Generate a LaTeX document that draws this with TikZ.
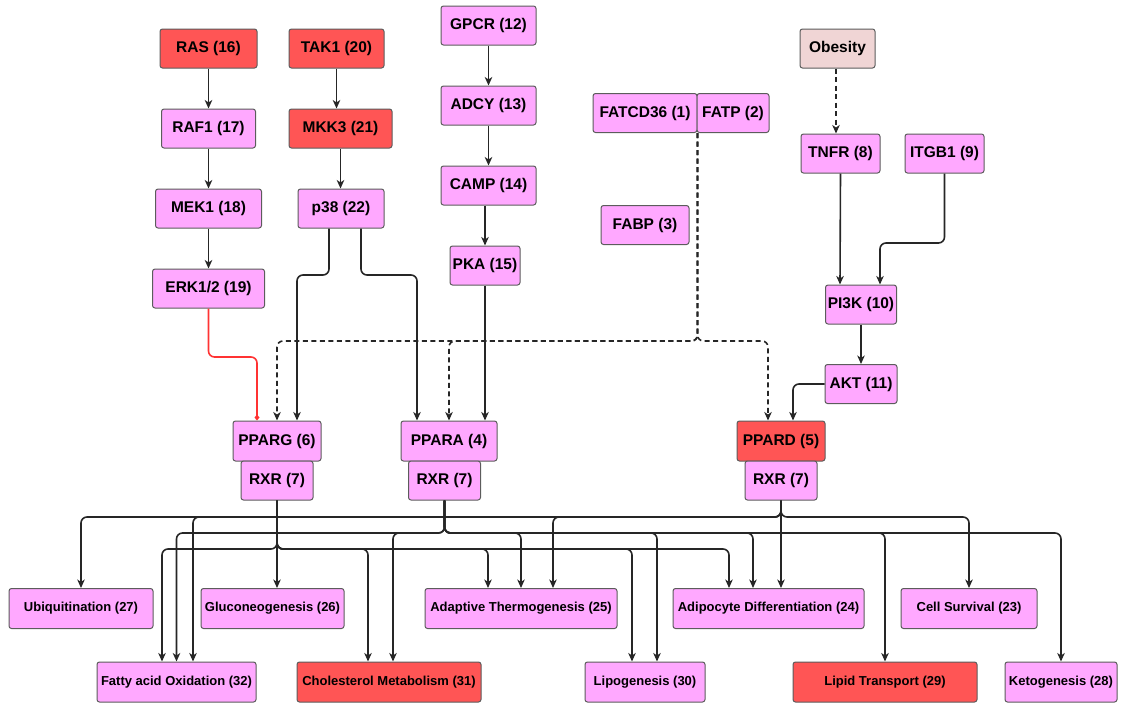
\documentclass[tikz,border=0pt]{standalone}
\usepackage{fontspec}
\setmainfont{Liberation Sans}
\usetikzlibrary{arrows.meta}
\definecolor{pinkf}{HTML}{FFA8FF}
\definecolor{redf}{HTML}{FF5555}
\definecolor{obf}{HTML}{F0D5D5}
\definecolor{bord}{HTML}{5C5C5C}
\definecolor{edgec}{HTML}{262626}
\definecolor{redl}{HTML}{FF3333}
\begin{document}
\begin{tikzpicture}[x=1pt,y=-1pt,
 gene/.style={draw=bord, fill=pinkf, line width=1pt, rounded corners=2.5pt, inner sep=0pt, minimum height=39pt, font=\bfseries\fontsize{15.5}{18}\selectfont},
 redgene/.style={gene, fill=redf},
 obgene/.style={gene, fill=obf},
 proc/.style={gene, font=\bfseries\fontsize{13}{15}\selectfont, minimum height=40pt},
 redproc/.style={proc, fill=redf},
 arr/.style={draw=edgec, line width=1.6pt, rounded corners=6pt, -{Stealth[length=8.5pt,width=7.5pt,inset=2.5pt]}},
 darr/.style={arr, dash pattern=on 5pt off 3.5pt},
 rarr/.style={draw=redl, line width=1.6pt, rounded corners=6pt, -{Diamond[open,length=6pt,width=5pt]}}]
\useasboundingbox (0,0) rectangle (1128,710);
% top nodes
\node[redgene, minimum width=97pt] (ras) at (208.5,48.5) {RAS (16)};
\node[redgene, minimum width=95pt] (tak1) at (336.5,48.5) {TAK1 (20)};
\node[gene, minimum width=95pt] (gpcr) at (488.5,25.5) {GPCR (12)};
\node[obgene, minimum width=75pt] (obesity) at (837.5,48.5) {Obesity};
\node[gene, minimum width=94pt] (raf1) at (208.5,128.5) {RAF1 (17)};
\node[redgene, minimum width=103pt] (mkk3) at (340.5,128.5) {MKK3 (21)};
\node[gene, minimum width=95pt] (adcy) at (488.5,105.5) {ADCY (13)};
\node[gene, minimum width=104pt] (fatcd) at (645,113) {FATCD36 (1)};
\node[gene, minimum width=72pt] (fatp) at (733,113) {FATP (2)};
\node[gene, minimum width=79pt] (tnfr) at (840.5,153.5) {TNFR (8)};
\node[gene, minimum width=79pt] (itgb1) at (944.5,153.5) {ITGB1 (9)};
\node[gene, minimum width=106pt] (mek1) at (208.5,208.5) {MEK1 (18)};
\node[gene, minimum width=86pt] (p38) at (341,208.5) {p38 (22)};
\node[gene, minimum width=95pt] (camp) at (488.5,185.5) {CAMP (14)};
\node[gene, minimum width=88pt] (fabp) at (645,225) {FABP (3)};
\node[gene, minimum width=70pt] (pka) at (485,265.5) {PKA (15)};
\node[gene, minimum width=112pt] (erk) at (208.5,288.5) {ERK1/2 (19)};
\node[gene, minimum width=71pt] (pi3k) at (861,304.5) {PI3K (10)};
\node[gene, minimum width=72pt] (akt) at (861,384) {AKT (11)};
% receptors
\node[gene, minimum width=88pt, minimum height=40pt] (pparg) at (277,441) {PPARG (6)};
\node[gene, minimum width=72pt] (rxrg) at (277,480.5) {RXR (7)};
\node[gene, minimum width=96pt, minimum height=40pt] (ppara) at (449,441) {PPARA (4)};
\node[gene, minimum width=72pt] (rxra) at (444.5,480.5) {RXR (7)};
\node[redgene, minimum width=88pt, minimum height=40pt] (ppard) at (781,441) {PPARD (5)};
\node[gene, minimum width=72pt] (rxrd) at (781,480.5) {RXR (7)};
% outcomes row 1
\node[proc, minimum width=144pt] (ubiq) at (81,608.5) {Ubiquitination (27)};
\node[proc, minimum width=143pt] (gluco) at (272.5,608.5) {Gluconeogenesis (26)};
\node[proc, minimum width=192pt] (adapt) at (521,608.5) {Adaptive Thermogenesis (25)};
\node[proc, minimum width=191pt] (adipo) at (768.5,608.5) {Adipocyte Differentiation (24)};
\node[proc, minimum width=136pt] (cells) at (969,608.5) {Cell Survival (23)};
% outcomes row 2
\node[proc, minimum width=159pt] (fao) at (176.5,682) {Fatty acid Oxidation (32)};
\node[redproc, minimum width=184pt] (chol) at (389,682) {Cholesterol Metabolism (31)};
\node[proc, minimum width=120pt] (lipo) at (645,682) {Lipogenesis (30)};
\node[redproc, minimum width=184pt] (lipt) at (885,682) {Lipid Transport (29)};
\node[proc, minimum width=112pt] (keto) at (1061,682) {Ketogenesis (28)};
% top chains
\draw[arr] (ras) -- (raf1);
\draw[arr] (raf1) -- (mek1);
\draw[arr] (mek1) -- (erk);
\draw[arr] (tak1.south) -- (tak1.south |- mkk3.north);
\draw[arr] (mkk3.south) -- (mkk3.south |- p38.north);
\draw[arr] (gpcr) -- (adcy);
\draw[arr] (adcy) -- (camp);
\draw[arr] ([xshift=-3.5pt]camp.south) -- (pka.north);
\draw[arr] (pka.south) -- (pka.south |- ppara.north);
\draw[arr] ([xshift=-12pt]p38.south) |- (297,275) -- ([xshift=20pt]pparg.north);
\draw[arr] ([xshift=20pt]p38.south) |- (417,275) -- ([xshift=-32pt]ppara.north);
\draw[rarr] (erk.south) |- (257,357) -- ([xshift=-20pt]pparg.north);
\draw[darr] (fatcd.south east) |- (277,341) -- (pparg.north);
\draw[darr] (fatcd.south east) |- (449,341) -- (ppara.north);
\draw[darr] (fatcd.south east) |- (768,341) -- ([xshift=-13pt]ppard.north);
\draw[darr] ([xshift=-1.5pt]obesity.south) -- ([xshift=-4.5pt]tnfr.north);
\draw[arr] (tnfr.south) -- ([xshift=-21pt]pi3k.north);
\draw[arr] (itgb1.south) |- (880,243) -- ([xshift=19pt]pi3k.north);
\draw[arr] (pi3k) -- (akt);
\draw[arr] (akt.west) -| ([xshift=12pt]ppard.north);
% RXR (PPARG) outputs
\draw[arr] (rxrg.south) -- (rxrg.south |- gluco.north);
\draw[arr] (rxrg.south) |- (162,549) -- ([xshift=-14.5pt]fao.north);
\draw[arr] (rxrg.south) |- (368,549) -- ([xshift=-21pt]chol.north);
\draw[arr] (rxrg.south) |- (488,549) -- ([xshift=-33pt]adapt.north);
\draw[arr] (rxrg.south) |- (632,549) -- ([xshift=-13pt]lipo.north);
\draw[arr] (rxrg.south) |- (729,549) -- ([xshift=-39.5pt]adipo.north);
% RXR (PPARA) outputs
\draw[arr] (rxra.south) |- (176.5,533) -- (fao.north);
\draw[arr] (rxra.south) |- (393,533) -- ([xshift=4pt]chol.north);
\draw[arr] (rxra.south) |- (521,533) -- (adapt.north);
\draw[arr] (rxra.south) |- (657,533) -- ([xshift=12pt]lipo.north);
\draw[arr] (rxra.south) |- (753,533) -- ([xshift=-15.5pt]adipo.north);
\draw[arr] (rxra.south) |- (885,533) -- (lipt.north);
\draw[arr] (rxra.south) |- (1061,533) -- (keto.north);
% RXR (PPARD) outputs
\draw[arr] (rxrd.south) |- (81,517) -- (ubiq.north);
\draw[arr] (rxrd.south) |- (193,517) -- ([xshift=16.5pt]fao.north);
\draw[arr] (rxrd.south) |- (553,517) -- ([xshift=32pt]adapt.north);
\draw[arr] (rxrd.south) -- ([xshift=12.5pt]adipo.north);
\draw[arr] (rxrd.south) |- (969,517) -- (cells.north);
\end{tikzpicture}
\end{document}
